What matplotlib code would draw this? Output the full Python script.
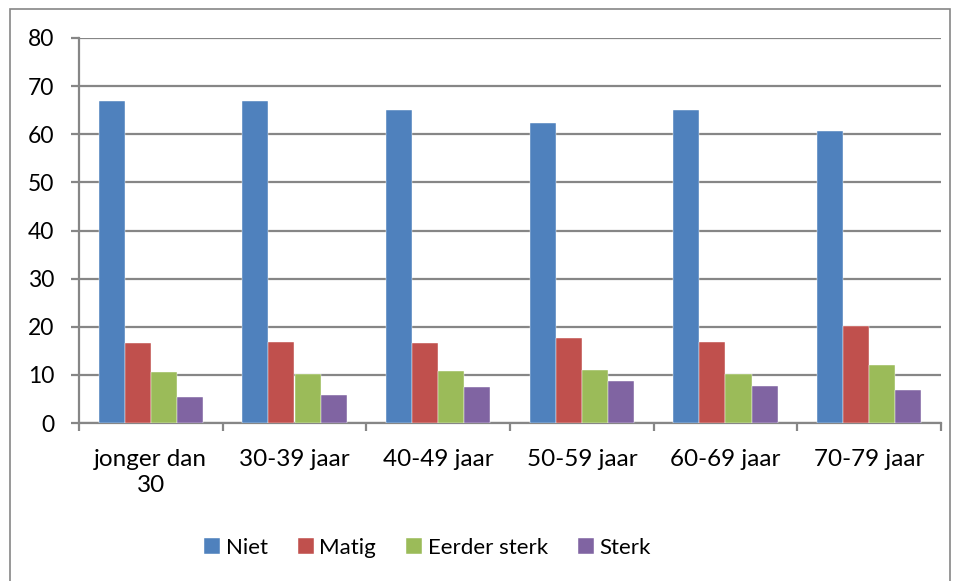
import matplotlib
matplotlib.use("Agg")
import matplotlib.pyplot as plt
from matplotlib.patches import Rectangle
import numpy as np

categories = ["jonger dan\n30", "30-39 jaar", "40-49 jaar", "50-59 jaar", "60-69 jaar", "70-79 jaar"]
series_names = ["Niet", "Matig", "Eerder sterk", "Sterk"]
niet = [66.9, 67.0, 65.0, 62.3, 65.0, 60.7]
matig = [16.7, 16.8, 16.6, 17.7, 16.8, 20.1]
eerder_sterk = [10.6, 10.1, 10.8, 11.1, 10.2, 12.1]
sterk = [5.5, 5.9, 7.5, 8.8, 7.7, 6.9]
y_ticks = [0, 10, 20, 30, 40, 50, 60, 70, 80]

colors = ["#4F81BD", "#C0504D", "#9BBB59", "#8064A2"]
plt.rcParams['font.family'] = ['Lato', 'DejaVu Sans']

W, H = 956, 581
fig = plt.figure(figsize=(W / 100, H / 100), dpi=100)
fig.patches.append(Rectangle((10 / W, 1 - 585 / H), 940 / W, 576 / H, transform=fig.transFigure,
                             fill=False, edgecolor="#868686", linewidth=1.2))
ax = fig.add_axes([79 / W, 1 - 423 / H, (941 - 79) / W, (423 - 38) / H])

x = np.arange(len(categories))
w = 0.181
data = [niet, matig, eerder_sterk, sterk]
for j, (vals, name) in enumerate(zip(data, series_names)):
    ax.bar(x + (j - 1.5) * w, vals, width=w, color=colors[j], label=name, zorder=3,
           edgecolor="white", linewidth=0.3)

ax.set_xlim(-0.5, len(categories) - 0.5)
ax.set_ylim(0, 80)
ax.set_yticks(y_ticks)
ax.set_yticklabels([str(v) for v in y_ticks], fontsize=16.5)
ax.yaxis.grid(True, color="#868686", linewidth=1.6, zorder=0)
ax.set_axisbelow(True)
ax.tick_params(axis="y", length=6, width=1.6, color="#868686", pad=12)

ax.set_xticks(np.arange(len(categories) + 1) - 0.5)
ax.set_xticklabels([])
ax.tick_params(axis="x", which="major", length=6, width=1.6, color="#868686")
ax.set_xticks(x, minor=True)
ax.set_xticklabels(categories, minor=True, fontsize=17.5, linespacing=1.25)
ax.tick_params(axis="x", which="minor", length=0, pad=19)

for s in ["top", "right"]:
    ax.spines[s].set_visible(False)
for s in ["left", "bottom"]:
    ax.spines[s].set_color("#868686")
    ax.spines[s].set_linewidth(1.6)

fig.legend(loc="center", bbox_to_anchor=(427.5 / W, 1 - 548 / H), ncol=4, frameon=False,
           fontsize=16, handlelength=0.72, handleheight=0.72, handletextpad=0.25,
           columnspacing=1.35)

fig.savefig("out.png", dpi=100)
